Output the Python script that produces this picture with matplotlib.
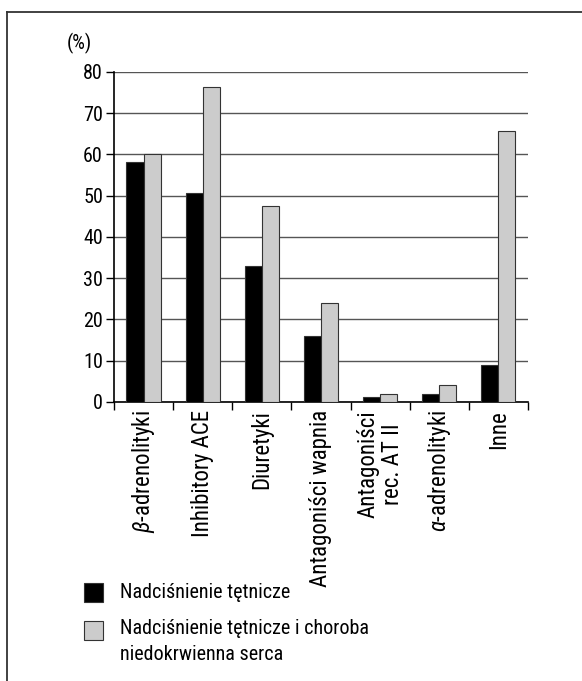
import numpy as np
import matplotlib.pyplot as plt
from matplotlib.lines import Line2D
from matplotlib.patches import Rectangle
from matplotlib import font_manager

names = {f.name for f in font_manager.fontManager.ttflist}
fam = 'Liberation Sans'
for cand in ['Liberation Sans Narrow', 'Roboto Condensed']:
    if cand in names:
        fam = cand
        break
plt.rcParams['font.family'] = [fam, 'DejaVu Sans']
plt.rcParams['mathtext.fontset'] = 'custom'
plt.rcParams['mathtext.it'] = fam + ':italic'
plt.rcParams['mathtext.rm'] = fam

# data
categories = ['$\\beta$-adrenolityki', 'Inhibitory ACE', 'Diuretyki', 'Antagoniści wapnia',
              'Antagoniści\nrec. AT II', '$\\alpha$-adrenolityki', 'Inne']
nadcisnienie = [58.1, 50.6, 32.9, 15.9, 1.3, 1.9, 9.0]
nadcisnienie_chns = [60.0, 76.4, 47.4, 23.9, 1.9, 4.2, 65.7]
series_names = ['Nadciśnienie tętnicze', 'Nadciśnienie tętnicze i choroba\nniedokrwienna serca']

fs = 14.5

fig = plt.figure(figsize=(5.82, 6.81), dpi=100)
ax = fig.add_axes([0.196, 0.4097, 0.711, 0.4846])

x = np.arange(len(categories))
w = 0.29
ax.bar(x - w/2, nadcisnienie, w, color='black', edgecolor='#333333', linewidth=0.8, zorder=3)
ax.bar(x + w/2, nadcisnienie_chns, w, color='#cccccc', edgecolor='#333333', linewidth=0.8, zorder=3)

ax.set_xlim(-0.5, len(categories) - 0.5)
ax.set_ylim(0, 80)
ax.set_yticks(np.arange(0, 81, 10))
ax.tick_params(axis='y', labelsize=fs, length=6, width=1, pad=2)
ax.yaxis.grid(True, color='#555555', linewidth=1)
ax.set_axisbelow(True)

# category boundaries as bottom ticks, labels in between
ax.set_xticks(np.arange(-0.5, len(categories), 1))
ax.set_xticklabels([])
ax.tick_params(axis='x', length=6, width=1, direction='out')
for i, c in enumerate(categories):
    ax.text(i, -2.0, c, rotation=90, ha='center', va='top', fontsize=16.5,
            multialignment='center', linespacing=1.1)

for s in ['top', 'right']:
    ax.spines[s].set_visible(False)
ax.spines['left'].set_linewidth(1.2)
ax.spines['bottom'].set_linewidth(1.2)

fig.text(0.115, 0.936, '(%)', fontsize=fs, ha='left', va='center')

# legend
fig.add_artist(Rectangle((84/582, 1 - 602/681), 19/582, 19/681, facecolor='black',
                         edgecolor='#333333', linewidth=0.8, transform=fig.transFigure))
fig.add_artist(Rectangle((84/582, 1 - 640/681), 19/582, 19/681, facecolor='#cccccc',
                         edgecolor='#333333', linewidth=0.8, transform=fig.transFigure))
fig.text(120/582, 1 - 592/681, series_names[0], fontsize=fs, va='center')
fig.text(120/582, 1 - 619/681, series_names[1], fontsize=fs, va='top', linespacing=1.5)

# frame
fig.add_artist(Line2D([7/582, 1], [1 - 12/681, 1 - 12/681], color='#333333', linewidth=1.3))
fig.add_artist(Line2D([7/582, 7/582], [0, 1 - 12/681], color='#333333', linewidth=1.3))

fig.savefig('out.png', dpi=100)
